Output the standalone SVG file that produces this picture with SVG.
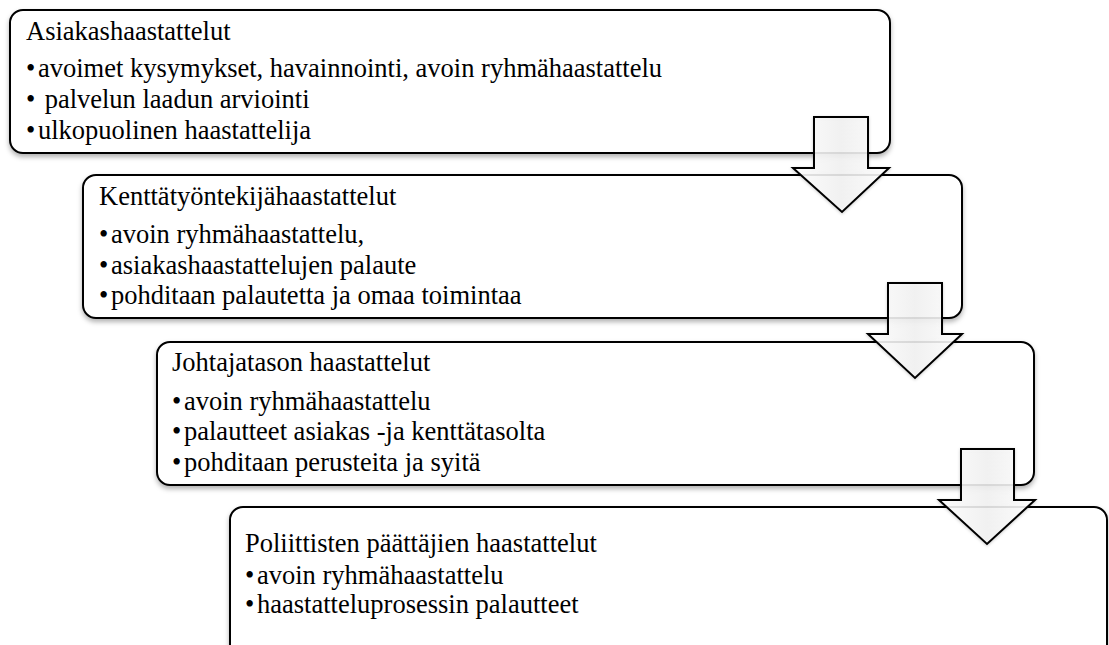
<svg xmlns="http://www.w3.org/2000/svg" width="1109" height="645" viewBox="0 0 1109 645">
<defs>
<style>
.box{fill:#fff;stroke:#000;stroke-width:2;filter:url(#sh)}
.arr{fill:url(#ag);fill-opacity:0.88;stroke:#000;stroke-width:2;stroke-linejoin:miter;filter:url(#sh2)}
.t{font-family:'Liberation Serif','DejaVu Serif','Times New Roman',Times,serif;font-size:26.5px;fill:#000}
</style>
<filter id="sh" x="-5%" y="-10%" width="110%" height="130%">
<feDropShadow dx="0" dy="3" stdDeviation="2.5" flood-color="#000" flood-opacity="0.3"/>
</filter>
<filter id="sh2" x="-20%" y="-20%" width="140%" height="140%">
<feDropShadow dx="0" dy="1" stdDeviation="1.5" flood-color="#000" flood-opacity="0.2"/>
</filter>
<linearGradient id="ag" x1="0" y1="0" x2="1" y2="0">
<stop offset="0" stop-color="#ffffff"/>
<stop offset="0.5" stop-color="#f1f1f1"/>
<stop offset="1" stop-color="#ffffff"/>
</linearGradient>
</defs>
<rect width="1109" height="645" fill="#fff"/>

<g id="node1" class="t" font-family="Liberation Serif, DejaVu Serif, serif">
<rect class="box" x="10" y="10" width="880" height="143" rx="13"/>
<text x="26" y="40">Asiakashaastattelut</text>
<text y="77"><tspan x="26">•</tspan><tspan x="38">avoimet kysymykset, havainnointi, avoin ryhmähaastattelu</tspan></text>
<text y="108" xml:space="preserve"><tspan x="26">•</tspan><tspan x="38"> palvelun laadun arviointi</tspan></text>
<text y="139"><tspan x="26">•</tspan><tspan x="38">ulkopuolinen haastattelija</tspan></text>
</g>

<g id="node2" class="t" font-family="Liberation Serif, DejaVu Serif, serif">
<rect class="box" x="83" y="175" width="879" height="143" rx="13"/>
<text x="99" y="205">Kenttätyöntekijähaastattelut</text>
<text y="243"><tspan x="99">•</tspan><tspan x="111">avoin ryhmähaastattelu,</tspan></text>
<text y="274"><tspan x="99">•</tspan><tspan x="111">asiakashaastattelujen palaute</tspan></text>
<text y="304"><tspan x="99">•</tspan><tspan x="111">pohditaan palautetta ja omaa toimintaa</tspan></text>
</g>

<g id="node3" class="t" font-family="Liberation Serif, DejaVu Serif, serif">
<rect class="box" x="157" y="342" width="877" height="143" rx="13"/>
<text x="172" y="371">Johtajatason haastattelut</text>
<text y="410"><tspan x="172">•</tspan><tspan x="184">avoin ryhmähaastattelu</tspan></text>
<text y="440"><tspan x="172">•</tspan><tspan x="184">palautteet asiakas -ja kenttätasolta</tspan></text>
<text y="471"><tspan x="172">•</tspan><tspan x="184">pohditaan perusteita ja syitä</tspan></text>
</g>

<g id="node4" class="t" font-family="Liberation Serif, DejaVu Serif, serif">
<rect class="box" x="230" y="507" width="877" height="160" rx="13"/>
<text x="245" y="552">Poliittisten päättäjien haastattelut</text>
<text y="584"><tspan x="245">•</tspan><tspan x="257">avoin ryhmähaastattelu</tspan></text>
<text y="613"><tspan x="245">•</tspan><tspan x="257">haastatteluprosessin palautteet</tspan></text>
</g>

<g id="connectors">
<path class="arr" d="M814,117 H868 V168 H889 L842,212 L793,168 H814 Z"/>
<path class="arr" d="M888,283 H942 V334 H962 L915,378 L868,334 H888 Z"/>
<path class="arr" d="M961,449 H1014 V500 H1035 L987,544 L939,500 H961 Z"/>
</g>
</svg>
